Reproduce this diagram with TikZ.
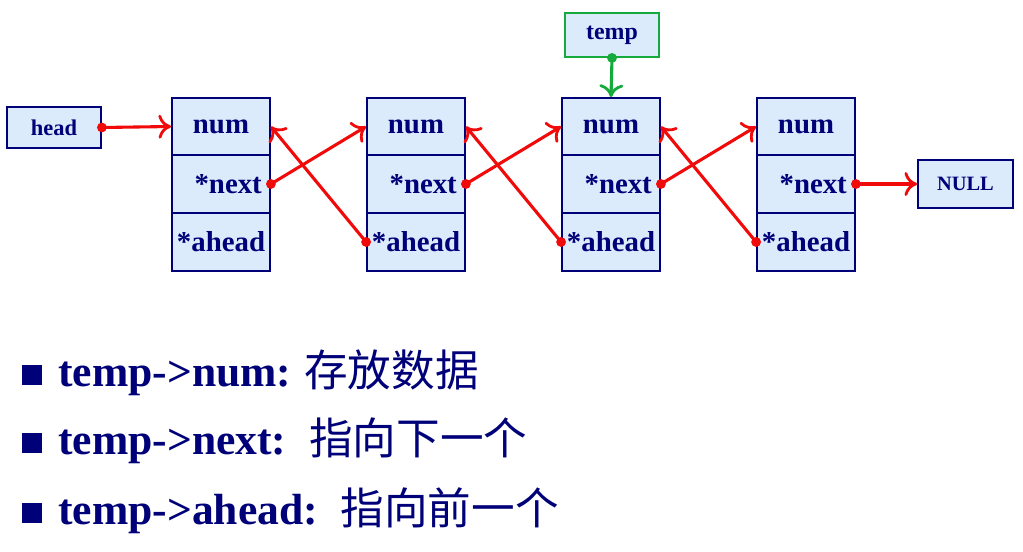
\documentclass[tikz,border=0pt]{standalone}
\usepackage{fontspec}
\setmainfont{Liberation Serif}
\newfontfamily\cjk{Noto Sans CJK SC}
\usetikzlibrary{arrows,arrows.meta,positioning}
\definecolor{navy}{RGB}{0,0,120}
\definecolor{cellfill}{RGB}{220,235,252}
\definecolor{ptrred}{RGB}{240,10,10}
\definecolor{tempgreen}{RGB}{20,170,60}
\begin{document}
\begin{tikzpicture}
    [x=0.025cm,y=-0.025cm,
     cell/.style={draw=navy,line width=1.3pt,fill=cellfill,minimum width=98*0.025cm,
       text=navy,font=\bfseries\fontsize{20.5}{22}\selectfont,inner sep=0pt},
     small/.style={draw=navy,line width=1.3pt,fill=cellfill,text=navy,
       font=\bfseries\fontsize{16}{18}\selectfont,inner sep=0pt},
     ptr/.style={-{To[length=9pt,width=17pt,line width=2pt]},ptrred,line width=2.2pt},
     dot/.style={circle,fill=ptrred,inner sep=0pt,minimum size=7pt}]
    \useasboundingbox (0,0) rectangle (1023,551);

    % the four list nodes
    \foreach \i/\x in {1/172,2/367,3/562,4/757} {
      \node[cell,minimum height=57*0.025cm] (num\i) at (\x+49,126.5) {num};
      \node[cell,minimum height=58*0.025cm] (next\i) at (\x+49,184) {\enspace*next};
      \node[cell,minimum height=58*0.025cm] (ahead\i) at (\x+49,242) {*ahead};
    }
    \node[small,minimum width=94*0.025cm,minimum height=41*0.025cm] (head) at (54,127.5) {head};
    \node[small,font=\bfseries\fontsize{14.5}{16}\selectfont,minimum width=95*0.025cm,minimum height=48*0.025cm] (null) at (965.5,184) {NULL};
    \node[small,draw=tempgreen,font=\bfseries\fontsize{17}{18}\selectfont,minimum width=94*0.025cm,minimum height=44*0.025cm] (temp) at (612,35) {temp};

    % pointers
    \node[dot] (hd) at (head.east) {};
    \draw[ptr] (hd.center) -- (num1.west);
    \foreach \i/\j in {1/2,2/3,3/4} {
      \node[dot] (nd\i) at (next\i.east) {};
      \node[dot] (ad\j) at (ahead\j.west) {};
      \draw[ptr] (nd\i.center) -- (num\j.west);
      \draw[ptr] (ad\j.center) -- (num\i.east);
    }
    \node[dot] (nd4) at (next4.east) {};
    \draw[ptr] (nd4.center) -- (null.west);
    \node[dot,fill=tempgreen] (td) at (temp.south) {};
    \draw[ptr,tempgreen] (td.center) -- (num3.north);

    % bullet lines
    \foreach \y/\t/\c in {373/temp->num:/ 存放数据,441/temp->next:/ \ 指向下一个,511/temp->ahead:/ \ 指向前一个} {
      \node[fill=navy,minimum size=14pt,inner sep=0pt] at (32,\y+2) {};
      \node[anchor=west,text=navy,inner sep=0pt,font=\fontsize{31}{34}\selectfont] at (58,\y)
        {\textbf{\t}{\cjk\c}};
    }
\end{tikzpicture}
\end{document}
